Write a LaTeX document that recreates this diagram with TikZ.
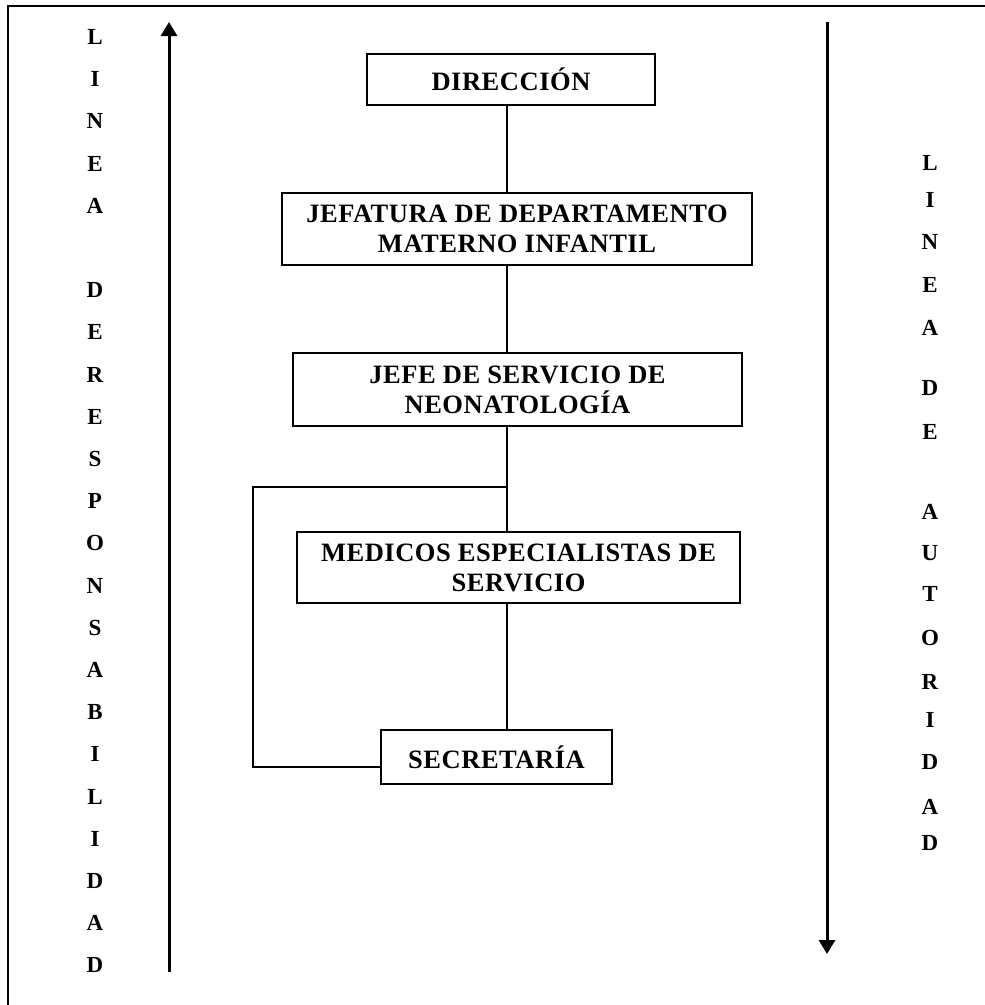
\documentclass[tikz,border=0pt]{standalone}
\usepackage{fontspec}
\setmainfont{Liberation Serif}
\newfontfamily\cajafont[LetterSpace=2]{Liberation Serif}
\usetikzlibrary{arrows.meta}

\tikzset{
    caja/.style={draw, line width=1.6pt, align=center, inner sep=0pt,
        font=\cajafont\bfseries\fontsize{26.5}{30}\selectfont},
    letra/.style={inner sep=0pt, font=\bfseries\fontsize{23}{23}\selectfont},
    flecha/.style={line width=3pt, -{Triangle[length=14pt,width=16pt]}},
    enlace/.style={line width=1.6pt}
}

\begin{document}
\begin{tikzpicture}[x=1pt, y=-1pt]
    \useasboundingbox (0,0) rectangle (985,1005);

    % marco
    \draw[line width=2pt] (8,1005) -- (8,6) -- (985,6);

    % cajas
    \node[caja, minimum width=288pt, minimum height=51pt] (dir) at (511,79.5) {DIRECCIÓN};
    \node[caja, minimum width=470pt, minimum height=72pt] (jef) at (517,229)
        {JEFATURA DE DEPARTAMENTO\\ MATERNO INFANTIL};
    \node[caja, minimum width=449pt, minimum height=73pt] (jser) at (517.5,389.5)
        {JEFE DE SERVICIO DE\\ NEONATOLOGÍA};
    \node[caja, minimum width=443pt, minimum height=71pt] (med) at (518.5,567.5)
        {MEDICOS ESPECIALISTAS DE\\ SERVICIO};
    \node[caja, minimum width=231pt, minimum height=54pt] (sec) at (496.5,757) {SECRETARÍA};

    % enlaces
    \coordinate (eje) at (507,0);
    \coordinate (rama) at (253,487);
    \draw[enlace] (dir.south -| eje) -- (jef.north -| eje);
    \draw[enlace] (jef.south -| eje) -- (jser.north -| eje);
    \draw[enlace] (jser.south -| eje) -- (med.north -| eje);
    \draw[enlace] (med.south -| eje) -- (sec.north -| eje);
    \draw[enlace] (eje |- rama) -- (rama) |- ([yshift=-10pt]sec.west);

    % lineas de responsabilidad y autoridad
    \coordinate (respA) at (169,972);
    \coordinate (respB) at (169,22);
    \coordinate (autA) at (827,22);
    \coordinate (autB) at (827,954);
    \draw[flecha] (respA) -- (respB);
    \draw[flecha] (autA) -- (autB);

    \foreach \l/\k in {L/0,I/1,N/2,E/3,A/4,D/6,E/7,R/8,E/9,S/10,P/11,O/12,N/13,
                       S/14,A/15,B/16,I/17,L/18,I/19,D/20,A/21,D/22}
        \node[letra] at (95,37+42.2*\k) {\l};

    \foreach \l/\y in {L/163,I/200,N/242,E/285,A/328,D/388,E/432,A/512,U/553,
                       T/594,O/638,R/682,I/720,D/762,A/807,D/843}
        \node[letra] at (930,\y) {\l};
\end{tikzpicture}
\end{document}
